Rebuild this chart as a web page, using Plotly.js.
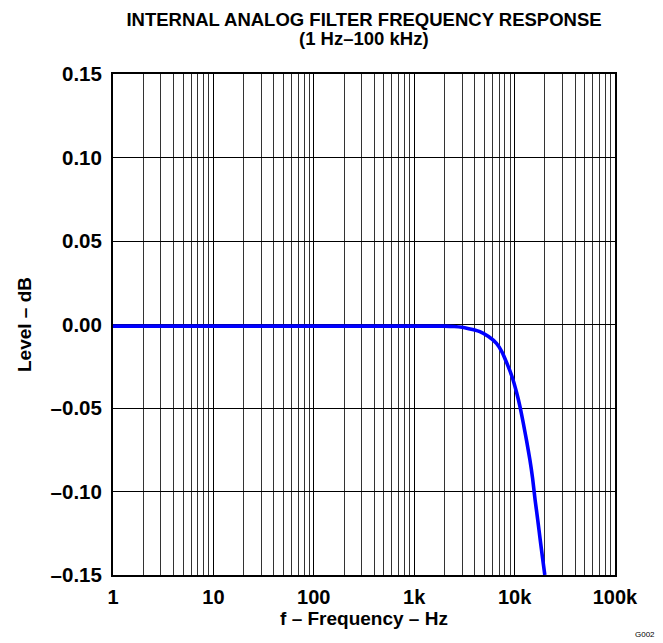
<!DOCTYPE html>
<html><head><meta charset="utf-8">
<script src="https://cdn.plot.ly/plotly-3.0.1.min.js"></script>
<style>html,body{margin:0;padding:0;background:#fff}#plot{width:663px;height:643px}</style>
</head><body><div id="plot"></div>
<script>
// Frequency (Hz) and level (dB)
const freqHz = [1, 10, 100, 1000, 2000, 2500, 3000, 3500, 4000, 4500, 5500, 6600, 7500, 8350, 9400, 10500, 11300, 12200, 13200, 14200, 15100, 16000, 17000, 18000, 19000, 20000];
const levelDb = [-0.001, -0.001, -0.001, -0.001, -0.001, -0.0012, -0.0017, -0.0025, -0.0033, -0.0043, -0.0072, -0.0113, -0.0165, -0.023, -0.031, -0.041, -0.049, -0.059, -0.070, -0.081, -0.092, -0.105, -0.117, -0.129, -0.140, -0.150];
const xTickVals = [1, 10, 100, 1000, 10000, 100000];
const xTickText = ['1', '10', '100', '1k', '10k', '100k'];
const yTickVals = [0.15, 0.10, 0.05, 0.00, -0.05, -0.10, -0.15];
const yTickText = ['0.15', '0.10', '0.05', '0.00', '\u20130.05', '\u20130.10', '\u20130.15'];
const titleLine1 = 'INTERNAL ANALOG FILTER FREQUENCY RESPONSE';
const titleLine2 = '(1 Hz\u2013100 kHz)';

const font = 'Liberation Sans, Arial, sans-serif';
const trace = {
  x: freqHz, y: levelDb, type: 'scatter', mode: 'lines',
  line: {color: '#0000ff', width: 3.6, shape: 'spline', smoothing: 0.6},
  hoverinfo: 'skip', cliponaxis: true
};
const layout = {
  width: 663, height: 643,
  margin: {l: 113, r: 48, t: 74, b: 68},
  paper_bgcolor: '#fff', plot_bgcolor: '#fff',
  showlegend: false,
  font: {family: font, color: '#000'},
  title: {text: '<b>' + titleLine1 + '</b>',
    font: {family: font, size: 18.5, color: '#000'},
    xref: 'paper', x: 0.5, xanchor: 'center',
    yref: 'container', y: 1 - 19.5 / 643, yanchor: 'middle'},
  xaxis: {
    type: 'log', range: [0, 5],
    tickmode: 'array', tickvals: xTickVals, ticktext: xTickText,
    tickfont: {family: font, size: 20, color: '#000', weight: 'bold'},
    ticks: '', ticklen: 0, ticklabelstandoff: 3,
    showgrid: true, gridcolor: '#000', gridwidth: 1,
    minor: {showgrid: true, gridcolor: '#333', gridwidth: 1, dtick: 'D1', ticks: ''},
    showline: true, linecolor: '#000', linewidth: 2, mirror: true,
    zeroline: false,
    title: {text: '<b>f \u2013 Frequency \u2013 Hz</b>', font: {family: font, size: 19, color: '#000'}, standoff: 5}
  },
  yaxis: {
    range: [-0.15, 0.15],
    tickmode: 'array', tickvals: yTickVals, ticktext: yTickText,
    tickfont: {family: font, size: 20.5, color: '#000', weight: 'bold'},
    ticks: '', ticklen: 0, ticklabelstandoff: 5,
    showgrid: true, gridcolor: '#000', gridwidth: 1,
    showline: true, linecolor: '#000', linewidth: 2, mirror: true,
    zeroline: false,
    title: {text: '<b>Level \u2013 dB</b>', font: {family: font, size: 19, color: '#000'}, standoff: 14}
  },
  annotations: [{
    text: '<b>' + titleLine2 + '</b>', xref: 'paper', yref: 'paper', x: 0.5, xanchor: 'center',
    y: (575 - 38.5) / 501, yanchor: 'middle', showarrow: false,
    font: {family: font, size: 18.5, color: '#000'}
  }, {
    text: 'G002', xref: 'paper', yref: 'paper', x: 1.035, y: -0.1317, xanchor: 'left', yanchor: 'bottom',
    showarrow: false, font: {family: font, size: 8, color: '#000'}
  }]
};
Plotly.newPlot('plot', [trace], layout, {displayModeBar: false, staticPlot: true});
</script>
</body></html>
